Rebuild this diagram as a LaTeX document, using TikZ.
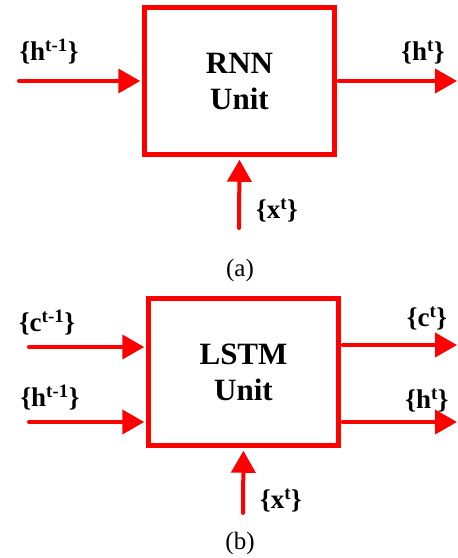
\documentclass[tikz,border=0pt]{standalone}
\usepackage{fontspec}
\setmainfont{Liberation Serif}
\usetikzlibrary{arrows.meta}

\begin{document}
\begin{tikzpicture}[x=1pt, y=-1pt,
    unit node/.style={draw=red, line width=4.5pt, minimum width=190pt, minimum height=147pt, inner sep=0pt, align=center, font=\fontsize{31}{36}\selectfont\bfseries},
    sig node/.style={inner sep=0pt, font=\fontsize{27}{30}\selectfont\bfseries},
    sub node/.style={inner sep=0pt, font=\fontsize{25}{28}\selectfont},
    flow/.style={red, line width=4pt, line cap=round, -{Triangle[length=22pt, width=24pt]}},
    ]
  \useasboundingbox (0,0) rectangle (458,558);

  % (a) RNN
  \node[unit node] (rnn) at (239.5,81) {RNN\\Unit};
  \coordinate (rh0) at (19,81);
  \coordinate (rh1) at (457,81);
  \coordinate (rx) at (239,228);

  \node[sig node] (rhl0) at (49,52) {\{h\textsuperscript{t-1}\}};
  \node[sig node] (rhl1) at (423,52) {\{h\textsuperscript{t}\}};
  \node[sig node] (rxl) at (277,210) {\{x\textsuperscript{t}\}};
  \node[sub node] (suba) at (240,270) {(a)};

  \draw[flow, shorten >=2pt] (rh0) -- (rnn.west);
  \draw[flow, shorten <=2pt] (rnn.east) -- (rh1);
  \draw[flow, shorten >=3pt] (rx) -- (rnn.south);

  % (b) LSTM
  \node[unit node] (lstm) at (243.5,372) {LSTM\\Unit};
  \coordinate (lc0) at (29,347);
  \coordinate (lh0) at (29,422);
  \coordinate (lc1) at (457,345);
  \coordinate (lh1) at (457,422);
  \coordinate (lx) at (243,513);

  \node[sig node] (lcl0) at (47,323) {\{c\textsuperscript{t-1}\}};
  \node[sig node] (lhl0) at (50,398) {\{h\textsuperscript{t-1}\}};
  \node[sig node] (lcl1) at (427,318) {\{c\textsuperscript{t}\}};
  \node[sig node] (lhl1) at (427,400) {\{h\textsuperscript{t}\}};
  \node[sig node] (lxl) at (281,500) {\{x\textsuperscript{t}\}};
  \node[sub node] (subb) at (240,543) {(b)};

  \draw[flow, shorten >=2pt] (lc0) -- (lc0 -| lstm.west);
  \draw[flow, shorten >=2pt] (lh0) -- (lh0 -| lstm.west);
  \draw[flow, shorten <=2pt] (lc1 -| lstm.east) -- (lc1);
  \draw[flow, shorten <=2pt] (lh1 -| lstm.east) -- (lh1);
  \draw[flow, shorten >=3pt] (lx) -- (lstm.south);
\end{tikzpicture}
\end{document}
